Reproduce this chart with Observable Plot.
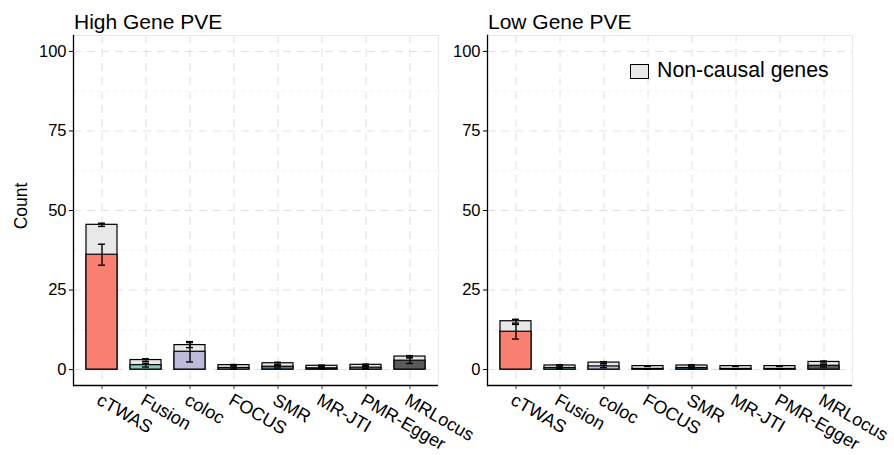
<!DOCTYPE html>
<html><head>
<meta charset="utf-8">
<script src="https://cdn.jsdelivr.net/npm/d3@7"></script>
<script src="https://cdn.jsdelivr.net/npm/@observablehq/plot@0.6"></script>
<style>
body{margin:0;background:#fff;font-family:"Liberation Sans",Arial,Helvetica,sans-serif;}
#wrap{position:relative;width:894px;height:455px;overflow:hidden;background:#fff;}
.panel{position:absolute;top:0;}
.lbl{position:absolute;white-space:nowrap;color:#000;line-height:20px;}
</style>
</head><body>
<div id="wrap"></div>
<script>
// ---- data ----
const methods = ["cTWAS","Fusion","coloc","FOCUS","SMR","MR-JTI","PMR-Egger","MRLocus"];
const methodColors = ["#FA8072","#80CDC1","#BEBADA","#B8B8B8","#4F7CA0","#B3B3B3","#9E9E9E","#5A5A5A"];
const yTicks = [0,25,50,75,100];
const yMinor = [12.5,37.5,62.5,87.5];

const highTotal    = [45.5, 3.0, 7.7, 1.4, 2.0, 1.2, 1.5, 4.1];
const highTotalSe  = [0.5, 0.4, 0.8, 0.2, 0.3, 0.2, 0.2, 0.3];
const highCausal   = [36.1, 1.4, 5.6, 0.5, 0.9, 0.4, 0.6, 2.8];
const highCausalSe = [3.3, 0.6, 3.2, 0.3, 0.4, 0.2, 0.3, 0.9];

const lowTotal     = [15.2, 1.3, 2.2, 1.1, 1.3, 1.1, 1.1, 2.4];
const lowTotalSe   = [0.6, 0.2, 0.3, 0.1, 0.2, 0.1, 0.1, 0.3];
const lowCausal    = [11.9, 0.5, 1.0, 0.2, 0.5, 0.2, 0.2, 1.2];
const lowCausalSe  = [2.3, 0.2, 0.4, 0.1, 0.3, 0.1, 0.1, 0.4];

const FONT = "'Liberation Sans', Arial, Helvetica, sans-serif";

function panel(total, totalSe, causal, causalSe, o) {
  const rows = methods.map((m, i) => ({method: m, total: total[i], tse: totalSe[i], causal: causal[i], cse: causalSe[i]}));
  const err = (v, s) => [
    Plot.ruleX(rows, {x: "method", y1: d => d[v] - d[s], y2: d => d[v] + d[s], stroke: "#000", strokeWidth: 1.4}),
    Plot.tickY(rows, {x: "method", y: d => d[v] - d[s], insetLeft: 12, insetRight: 12, stroke: "#000", strokeWidth: 1.4}),
    Plot.tickY(rows, {x: "method", y: d => d[v] + d[s], insetLeft: 12, insetRight: 12, stroke: "#000", strokeWidth: 1.4})
  ];
  return Plot.plot({
    width: o.width, height: 455,
    marginLeft: o.ml, marginRight: o.mr, marginTop: 35, marginBottom: 70,
    style: {fontFamily: FONT, fontSize: "16.5px", background: "transparent", overflow: "visible", color: "#000"},
    x: {domain: methods, paddingInner: 0.3, paddingOuter: 0.25, label: null, axis: null},
    y: {domain: [-5, 105], label: null, axis: null},
    color: {domain: methods, range: methodColors},
    marks: [
      Plot.ruleY(yMinor, {stroke: "#ebebeb", strokeWidth: 0.7, strokeDasharray: "4,4"}),
      Plot.ruleY(yTicks, {stroke: "#e0e0e0", strokeWidth: 1, strokeDasharray: "8,6"}),
      Plot.ruleX(methods, {x: d => d, stroke: "#e0e0e0", strokeWidth: 1, strokeDasharray: "8,6"}),
      Plot.frame({stroke: "#e8e8e8"}),
      Plot.barY(rows, {x: "method", y1: 0, y2: "total", fill: "#E8E8E8", stroke: "#000", strokeWidth: 1.2}),
      Plot.barY(rows, {x: "method", y1: 0, y2: "causal", fill: "method", stroke: "#000", strokeWidth: 1.2}),
      ...err("total", "tse"),
      ...err("causal", "cse"),
      Plot.axisY(yTicks, {tickSize: 4, tickPadding: 3, fontSize: 16.5, stroke: "#000", fill: "#000"}),
      Plot.axisX({tickSize: 4, tickFormat: () => "", stroke: "#444"}),
      Plot.text(methods, {x: d => d, frameAnchor: "bottom", dy: 7, rotate: 30, textAnchor: "start", lineAnchor: "top", fontSize: 18, fill: "#000"}),
      Plot.ruleY([-5], {stroke: "#000", strokeWidth: 1.3}),
      Plot.frame({anchor: "left", stroke: "#000", strokeWidth: 1.3})
    ]
  });
}

const wrap = document.getElementById("wrap");
function place(el, left) {
  const d = document.createElement("div");
  d.className = "panel"; d.style.left = left + "px";
  d.appendChild(el); wrap.appendChild(d);
}
place(panel(highTotal, highTotalSe, highCausal, highCausalSe, {width: 447, ml: 73, mr: 9}), 0);
place(panel(lowTotal, lowTotalSe, lowCausal, lowCausalSe, {width: 447, ml: 40, mr: 42}), 447);

function label(text, left, top, size, extra) {
  const d = document.createElement("div");
  d.className = "lbl"; d.textContent = text;
  d.style.left = left + "px"; d.style.top = top + "px"; d.style.fontSize = size + "px";
  if (extra) Object.assign(d.style, extra);
  wrap.appendChild(d);
  return d;
}
label("High Gene PVE", 74, 12, 21);
label("Low Gene PVE", 488, 12, 21);
label("Count", -4, 196, 17.5, {transform: "rotate(-90deg)", transformOrigin: "center center", width: "50px", textAlign: "center"});
// legend
const box = document.createElement("div");
Object.assign(box.style, {position: "absolute", left: "630px", top: "64px", width: "17px", height: "13px", background: "#E8E8E8", border: "1px solid #000"});
wrap.appendChild(box);
label("Non-causal genes", 657, 60, 21.3);
</script>
</body></html>
